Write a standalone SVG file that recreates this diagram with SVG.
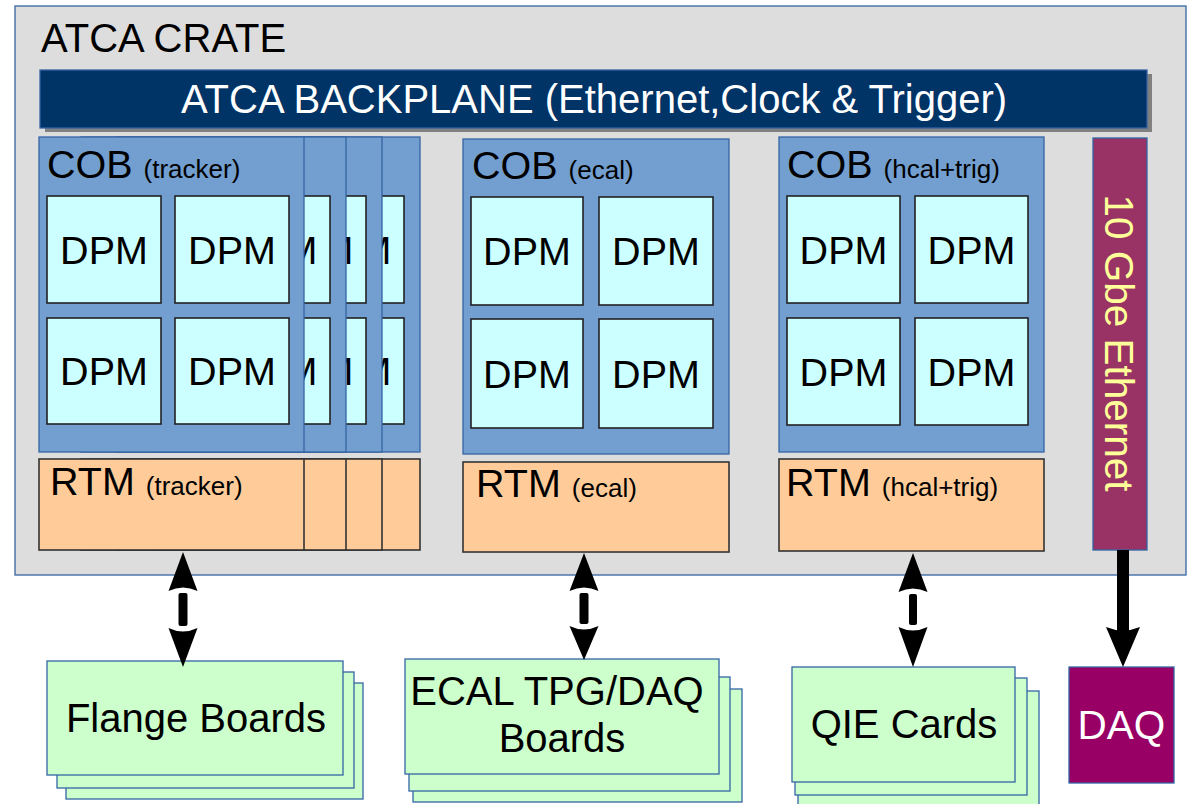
<svg xmlns="http://www.w3.org/2000/svg" width="1188" height="804" viewBox="0 0 1188 804">
<style>
text{font-family:"Liberation Sans",Arial,sans-serif;fill:#000}
.cob{fill:#729fcf;stroke:#3465a4;stroke-width:1.3}
.dpm{fill:#ccffff;stroke:#222;stroke-width:1.6}
.rtm{fill:#ffcc99;stroke:#333;stroke-width:1.6}
.brd{fill:#ccffcc;stroke:#3465a4;stroke-width:1.3}
.big{font-size:39.5px}
.sm{font-size:26px}
.lbl{font-size:40px;text-anchor:middle}
.dt{font-size:39.5px;text-anchor:middle;dominant-baseline:central}
.mt{font-size:39.5px;dominant-baseline:central}
.ar{fill:#000}
</style>
<rect width="1188" height="804" fill="#fff"/>
<g id="crate">
<rect x="15" y="6" width="1171" height="569" fill="#dddddd" stroke="#3465a4" stroke-width="1.3"/>
<text x="41" y="52" style="font-size:40px">ATCA CRATE</text>
</g>
<g id="backplane">
<rect x="45" y="74" width="1107" height="58" fill="#808080"/>
<rect x="40" y="70" width="1107" height="58" fill="#003366" stroke="#3465a4" stroke-width="1.3"/>
<text x="594" y="113" class="lbl" style="fill:#fff">ATCA BACKPLANE (Ethernet,Clock &amp; Trigger)</text>
</g>
<g id="cob-tracker">
<g id="cob-tracker-4">
<rect class="cob" x="155" y="137" width="265" height="315"/>
<rect class="dpm" x="163" y="196" width="113" height="107"/>
<rect class="dpm" x="291" y="196" width="113" height="107"/><text class="mt" x="358.5" y="249.5">M</text>
<rect class="dpm" x="163" y="318" width="113" height="106"/>
<rect class="dpm" x="291" y="318" width="113" height="106"/><text class="mt" x="358.5" y="371">M</text>
</g>
<g id="cob-tracker-3">
<rect class="cob" x="117" y="137" width="265" height="315"/>
<rect class="dpm" x="125" y="196" width="113" height="107"/>
<rect class="dpm" x="253" y="196" width="113" height="107"/><text class="mt" x="320.5" y="249.5">M</text>
<rect class="dpm" x="125" y="318" width="113" height="106"/>
<rect class="dpm" x="253" y="318" width="113" height="106"/><text class="mt" x="320.5" y="371">M</text>
</g>
<g id="cob-tracker-2">
<rect class="cob" x="81" y="137" width="265" height="315"/>
<rect class="dpm" x="89" y="196" width="113" height="107"/>
<rect class="dpm" x="217" y="196" width="113" height="107"/><text class="mt" x="284.5" y="249.5">M</text>
<rect class="dpm" x="89" y="318" width="113" height="106"/>
<rect class="dpm" x="217" y="318" width="113" height="106"/><text class="mt" x="284.5" y="371">M</text>
</g>
<g id="cob-tracker-1">
<rect class="cob" x="39" y="137" width="265" height="315"/>
<text x="47" y="178" class="big">COB <tspan class="sm">(tracker)</tspan></text>
<rect class="dpm" x="47" y="196" width="114" height="107"/><text class="dt" x="104" y="249.5">DPM</text>
<rect class="dpm" x="175" y="196" width="114" height="107"/><text class="dt" x="232" y="249.5">DPM</text>
<rect class="dpm" x="47" y="318" width="114" height="106"/><text class="dt" x="104" y="371">DPM</text>
<rect class="dpm" x="175" y="318" width="114" height="106"/><text class="dt" x="232" y="371">DPM</text>
</g>
</g>
<g id="rtm-tracker">
<rect class="rtm" x="155" y="459" width="265" height="91"/>
<rect class="rtm" x="117" y="459" width="265" height="91"/>
<rect class="rtm" x="81" y="459" width="265" height="91"/>
<rect class="rtm" x="39" y="459" width="265" height="91"/>
<text x="50" y="495" class="big">RTM <tspan class="sm">(tracker)</tspan></text>
</g>
<g id="cob-ecal">
<rect class="cob" x="463" y="139" width="266" height="315"/>
<text x="472" y="179" class="big">COB <tspan class="sm">(ecal)</tspan></text>
<rect class="dpm" x="471" y="197" width="112" height="108"/><text class="dt" x="527" y="251">DPM</text>
<rect class="dpm" x="599" y="197" width="114" height="108"/><text class="dt" x="656" y="251">DPM</text>
<rect class="dpm" x="471" y="319" width="112" height="109"/><text class="dt" x="527" y="373.5">DPM</text>
<rect class="dpm" x="599" y="319" width="114" height="109"/><text class="dt" x="656" y="373.5">DPM</text>
</g>
<g id="rtm-ecal">
<rect class="rtm" x="463" y="462" width="266" height="90"/>
<text x="476" y="497" class="big">RTM <tspan class="sm">(ecal)</tspan></text>
</g>
<g id="cob-hcal">
<rect class="cob" x="779" y="137" width="265" height="315"/>
<text x="787" y="178" class="big">COB <tspan class="sm">(hcal+trig)</tspan></text>
<rect class="dpm" x="787" y="196" width="113" height="107"/><text class="dt" x="843.5" y="249.5">DPM</text>
<rect class="dpm" x="915" y="196" width="113" height="107"/><text class="dt" x="971.5" y="249.5">DPM</text>
<rect class="dpm" x="787" y="318" width="113" height="107"/><text class="dt" x="843.5" y="371.5">DPM</text>
<rect class="dpm" x="915" y="318" width="113" height="107"/><text class="dt" x="971.5" y="371.5">DPM</text>
</g>
<g id="rtm-hcal">
<rect class="rtm" x="779" y="459" width="265" height="92"/>
<text x="786" y="496" class="big">RTM <tspan class="sm">(hcal+trig)</tspan></text>
</g>
<g id="ethernet">
<rect x="1093" y="138" width="54" height="412" fill="#993366" stroke="#3465a4" stroke-width="1.3"/>
<text transform="translate(1119,343) rotate(90)" style="font-size:40.5px;fill:#ffff99;text-anchor:middle;dominant-baseline:central">10 Gbe Ethernet</text>
</g>
<g id="flange-boards">
<rect class="brd" x="66" y="683" width="297" height="116"/>
<rect class="brd" x="57" y="672" width="297" height="116"/>
<rect class="brd" x="47" y="661" width="296" height="114"/>
<text x="196" y="732" class="lbl">Flange Boards</text>
</g>
<g id="ecal-boards">
<rect class="brd" x="413" y="689" width="329" height="113"/>
<rect class="brd" x="409" y="677" width="321" height="114"/>
<rect class="brd" x="405" y="659" width="314" height="115"/>
<text x="557" y="705" class="lbl">ECAL TPG/DAQ</text>
<text x="562" y="752" class="lbl">Boards</text>
</g>
<g id="qie-cards">
<rect class="brd" x="798" y="691" width="241" height="115"/>
<rect class="brd" x="795" y="678" width="232" height="117"/>
<rect class="brd" x="792" y="667" width="223" height="115"/>
<text x="904" y="738" class="lbl">QIE Cards</text>
</g>
<g id="daq">
<rect x="1069" y="667" width="105" height="116" fill="#990066" stroke="#3465a4" stroke-width="1.3"/>
<text x="1121.5" y="739" style="font-size:40.5px;fill:#fff;text-anchor:middle">DAQ</text>
</g>
<g id="connectors">
<g class="ar">
<path d="M183,552 L197.5,591 Q183,584 168.5,591 Z"/>
<rect x="178.5" y="593" width="9" height="33" rx="2"/>
<path d="M183,667 L197.5,628 Q183,635 168.5,628 Z"/>
</g>
<g class="ar">
<path d="M584,553 L598.5,591 Q584,584 569.5,591 Z"/>
<rect x="579.5" y="593" width="9" height="31" rx="2"/>
<path d="M584,660 L598.5,626 Q584,633 569.5,626 Z"/>
</g>
<g class="ar">
<path d="M913,553 L927.5,592 Q913,585 898.5,592 Z"/>
<rect x="909" y="594" width="8" height="31" rx="2"/>
<path d="M913,667 L927.5,627 Q913,634 898.5,627 Z"/>
</g>
<g class="ar">
<rect x="1117" y="550" width="12" height="82"/>
<path d="M1123,667 L1140,627 Q1123,634 1106,627 Z"/>
</g>
</g>
</svg>
